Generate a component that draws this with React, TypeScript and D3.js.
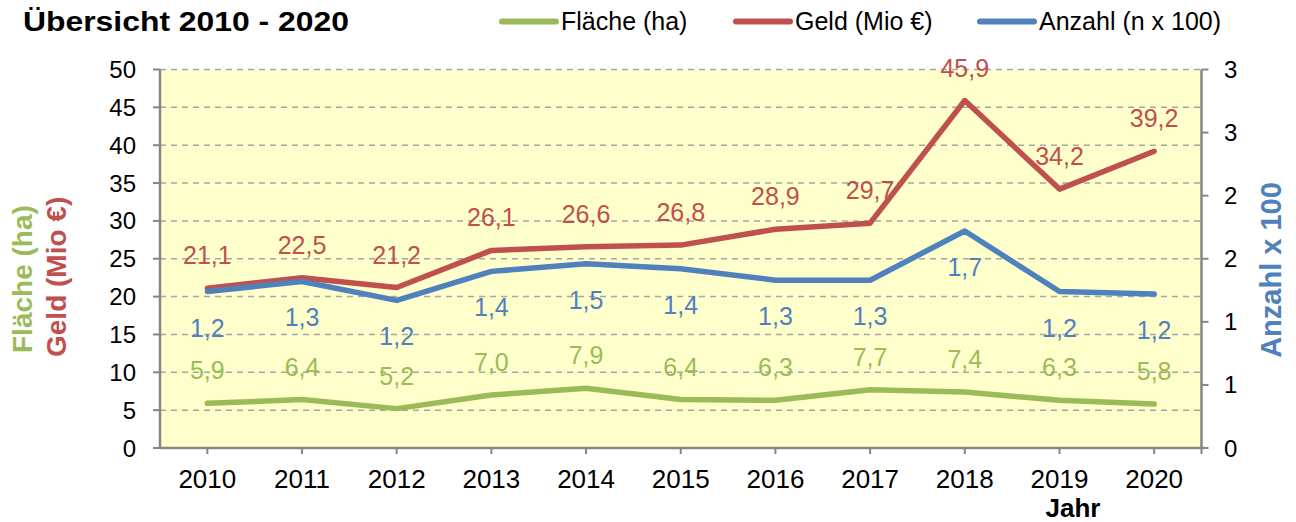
import { useEffect, useRef } from 'react';
import * as d3 from 'd3';

const years = ["2010", "2011", "2012", "2013", "2014", "2015", "2016", "2017", "2018", "2019", "2020"];
const flaeche = [5.9, 6.4, 5.2, 7.0, 7.9, 6.4, 6.3, 7.7, 7.4, 6.3, 5.8];
const geld = [21.1, 22.5, 21.2, 26.1, 26.6, 26.8, 28.9, 29.7, 45.9, 34.2, 39.2];
const anzahl = [1.24, 1.32, 1.17, 1.4, 1.46, 1.42, 1.33, 1.33, 1.72, 1.24, 1.22];
const leftTicks = [0, 5, 10, 15, 20, 25, 30, 35, 40, 45, 50];
const rightTicks = [0, 0.5, 1, 1.5, 2, 2.5, 3];

const GREEN = "#9BBB59";
const RED = "#C0504D";
const BLUE = "#4F81BD";
const FONT = "'Liberation Sans', Arial, sans-serif";

const App = () => {
    const ref = useRef<SVGSVGElement>(null);

    useEffect(() => {
        document.body.style.margin = "0";
        const svg = d3.select(ref.current);
        svg.selectAll("*").remove();

        const left = 160, right = 1201.5, top = 69.5, bottom = 448;

        const x = d3.scaleBand().domain(years).range([left, right]).paddingInner(0).paddingOuter(0);
        const cx = (d: string) => (x(d) as number) + x.bandwidth() / 2;
        const yL = d3.scaleLinear().domain([0, 50]).range([bottom, top]);
        const yR = d3.scaleLinear().domain([0, 3]).range([bottom, top]);
        const fmt = (v: number) => v.toFixed(1).replace(".", ",");

        // plot background
        svg.append("rect")
            .attr("x", left).attr("y", top)
            .attr("width", right - left).attr("height", bottom - top)
            .attr("fill", "#FFFFCC");

        // gridlines
        svg.append("g").selectAll("line")
            .data(leftTicks.filter((t) => t > 0))
            .join("line")
            .attr("x1", left).attr("x2", right)
            .attr("y1", (d) => yL(d)).attr("y2", (d) => yL(d))
            .attr("stroke", "#A6A6A6").attr("stroke-width", 1.5)
            .attr("stroke-dasharray", "6,5");

        const axisColor = "#868686";

        // left axis
        svg.append("line").attr("x1", left).attr("x2", left).attr("y1", top).attr("y2", bottom)
            .attr("stroke", axisColor).attr("stroke-width", 2.5);
        svg.append("g").selectAll("line").data(leftTicks).join("line")
            .attr("x1", left - 7).attr("x2", left)
            .attr("y1", (d) => yL(d)).attr("y2", (d) => yL(d))
            .attr("stroke", axisColor).attr("stroke-width", 2);
        svg.append("g").selectAll("text").data(leftTicks).join("text")
            .attr("x", 136).attr("y", (d) => yL(d))
            .attr("text-anchor", "end").attr("dominant-baseline", "central")
            .style("font-family", FONT).style("font-size", "24px")
            .text((d) => d);

        // right axis
        svg.append("line").attr("x1", right).attr("x2", right).attr("y1", top).attr("y2", bottom)
            .attr("stroke", axisColor).attr("stroke-width", 2.5);
        svg.append("g").selectAll("line").data(rightTicks).join("line")
            .attr("x1", right).attr("x2", right + 7)
            .attr("y1", (d) => yR(d)).attr("y2", (d) => yR(d))
            .attr("stroke", axisColor).attr("stroke-width", 2);
        svg.append("g").selectAll("text").data(rightTicks).join("text")
            .attr("x", 1224).attr("y", (d) => yR(d))
            .attr("dominant-baseline", "central")
            .style("font-family", FONT).style("font-size", "24px")
            .text((d) => Math.round(d));

        // bottom axis
        svg.append("line").attr("x1", left).attr("x2", right + 3).attr("y1", bottom).attr("y2", bottom)
            .attr("stroke", axisColor).attr("stroke-width", 2.5);
        svg.append("g").selectAll("line").data(years).join("line")
            .attr("x1", cx).attr("x2", cx)
            .attr("y1", bottom).attr("y2", bottom + 6)
            .attr("stroke", axisColor).attr("stroke-width", 2);
        svg.append("line").attr("x1", right).attr("x2", right).attr("y1", bottom).attr("y2", bottom + 6)
            .attr("stroke", axisColor).attr("stroke-width", 2);
        svg.append("g").selectAll("text").data(years).join("text")
            .attr("x", cx).attr("y", 488)
            .attr("text-anchor", "middle")
            .style("font-family", FONT).style("font-size", "26px")
            .text((d) => d);

        // series
        const series = [
            { values: flaeche, color: GREEN, y: yL, dy: -33 },
            { values: geld, color: RED, y: yL, dy: -33 },
            { values: anzahl, color: BLUE, y: yR, dy: 36 },
        ];
        series.forEach((s) => {
            const line = d3.line<number>()
                .x((_, i) => cx(years[i]))
                .y((d) => s.y(d));
            svg.append("path")
                .datum(s.values)
                .attr("d", line)
                .attr("fill", "none")
                .attr("stroke", s.color)
                .attr("stroke-width", 5.5)
                .attr("stroke-linejoin", "round")
                .attr("stroke-linecap", "round");
        });
        series.forEach((s) => {
            svg.append("g").selectAll("text").data(s.values).join("text")
                .attr("x", (_, i) => cx(years[i]))
                .attr("y", (d) => s.y(d) + s.dy)
                .attr("text-anchor", "middle").attr("dominant-baseline", "central")
                .attr("fill", s.color)
                .style("font-family", FONT).style("font-size", "25px")
                .text((d) => fmt(d));
        });

        // title
        svg.append("text")
            .attr("x", 23).attr("y", 31)
            .attr("textLength", 326).attr("lengthAdjust", "spacingAndGlyphs")
            .style("font-family", FONT).style("font-size", "28px").style("font-weight", "bold")
            .text("Übersicht 2010 - 2020");

        // legend
        const legend = [
            { label: "Fläche (ha)", color: GREEN, x: 502 },
            { label: "Geld (Mio €)", color: RED, x: 736 },
            { label: "Anzahl (n x 100)", color: BLUE, x: 980 },
        ];
        legend.forEach((l) => {
            svg.append("line")
                .attr("x1", l.x).attr("x2", l.x + 54).attr("y1", 21.5).attr("y2", 21.5)
                .attr("stroke", l.color).attr("stroke-width", 6).attr("stroke-linecap", "round");
            svg.append("text")
                .attr("x", l.x + 59).attr("y", 30)
                .style("font-family", FONT).style("font-size", "25px")
                .text(l.label);
        });

        // axis titles
        svg.append("text")
            .attr("transform", "translate(32,353) rotate(-90)")
            .attr("fill", GREEN)
            .style("font-family", FONT).style("font-size", "28px").style("font-weight", "bold")
            .text("Fläche (ha)");
        svg.append("text")
            .attr("transform", "translate(66,357) rotate(-90)")
            .attr("fill", RED)
            .style("font-family", FONT).style("font-size", "28px").style("font-weight", "bold")
            .text("Geld (Mio €)");
        svg.append("text")
            .attr("transform", "translate(1281,270) rotate(-90)")
            .attr("text-anchor", "middle")
            .attr("fill", BLUE)
            .style("font-family", FONT).style("font-size", "29px").style("font-weight", "bold")
            .text("Anzahl x 100");
        svg.append("text")
            .attr("x", 1073).attr("y", 517)
            .attr("text-anchor", "middle")
            .style("font-family", FONT).style("font-size", "26px").style("font-weight", "bold")
            .text("Jahr");
    }, []);

    return <svg ref={ref} width={1296} height={522} style={{ display: "block" }} />;
};

export default App;
